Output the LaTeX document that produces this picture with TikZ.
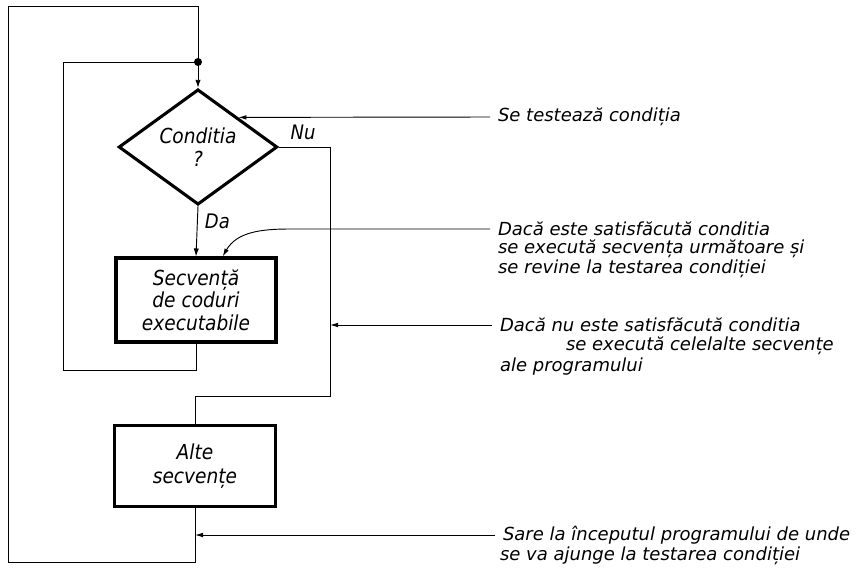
\documentclass[tikz,border=0pt]{standalone}
\usepackage{fontspec}
\setmainfont{DejaVu Sans}[FakeStretch=0.9]
\newfontfamily\notefont{DejaVu Sans}
\usepackage{tikz}
\usetikzlibrary{shapes.geometric, arrows.meta, positioning}

\begin{document}
\begin{tikzpicture}[x=0.75pt, y=-0.75pt,
        decision/.style={diamond, draw, line width=2.3pt, minimum width=119pt, minimum height=82pt, inner sep=0pt, align=center, font=\itshape\fontsize{15.5}{17}\selectfont},
        block/.style={rectangle, draw, line width=2.3pt, minimum width=120pt, minimum height=63pt, align=center, font=\itshape\fontsize{15.5}{17}\selectfont},
        line/.style={line width=0.7pt},
        flow/.style={line width=0.7pt, -{Latex[length=6pt, width=4pt]}},
        ann/.style={line width=0.7pt, -{Latex[length=6pt, width=3.5pt]}},
        note/.style={anchor=west, inner sep=0pt, outer sep=6pt, font=\notefont\itshape\fontsize{13.5}{14}\selectfont},
        tag/.style={font=\itshape\fontsize{15}{16}\selectfont}
    ]
        \useasboundingbox (0,0) rectangle (862,571);

        \fill (198,62) circle (3pt) coordinate (dot);
        \coordinate (outtop) at (198,6);
        \coordinate (loopin) at (63,370);
        \coordinate (loopout) at (8,562);
        \coordinate (nudown) at (330,396);

        \node[decision] (cond) at (198,147) {Conditia\\?};
        \node[block] (sec) at (196,300) {Secvență\\de coduri\\executabile};
        \node[block, minimum width=121pt, minimum height=61pt, font=\itshape\fontsize{15.5}{18.5}\selectfont] (alte) at (195,466) {Alte\\secvențe};

        \draw[flow] (dot) -- (cond.north);
        \draw[flow] (cond.south) -- node[tag, right=2pt, pos=0.3] {Da} (sec.north);
        \draw[line] (cond.east) -| (nudown) -| (alte.north);
        \node[tag] (nu) at (303,132) {Nu};
        \draw[line] (sec.south) |- (loopin) |- (dot);
        \draw[line] (alte.south) |- (loopout) |- (outtop) -- (dot);

        \node[note] (t1) at (490,117) {Se testează condiția};
        \node[note] (t2a) at (490,229) {Dacă este satisfăcută conditia};
        \node[note] (t2b) at (490,249) {se execută secvența următoare și};
        \node[note] (t2c) at (490,269) {se revine la testarea condiției};
        \node[note] (t3a) at (492,325) {Dacă nu este satisfăcută conditia};
        \node[note] (t3b) at (558,346) {se execută celelalte secvențe};
        \node[note] (t3c) at (492,367) {ale programului};
        \node[note] (t4a) at (495,535) {Sare la începutul programului de unde};
        \node[note] (t4b) at (492,556) {se va ajunge la testarea condiției};

        \draw[ann] (t1.west) -- (cond.north east);
        \draw[ann] (t2a.west) -- ++(-200,0) to[out=180, in=60] ([xshift=20pt]sec.north);
        \draw[ann] (t3a.west) -- (t3a.west -| nudown);
        \draw[ann] (t4a.west) -- (t4a.west -| alte.south);
    \end{tikzpicture}
\end{document}
